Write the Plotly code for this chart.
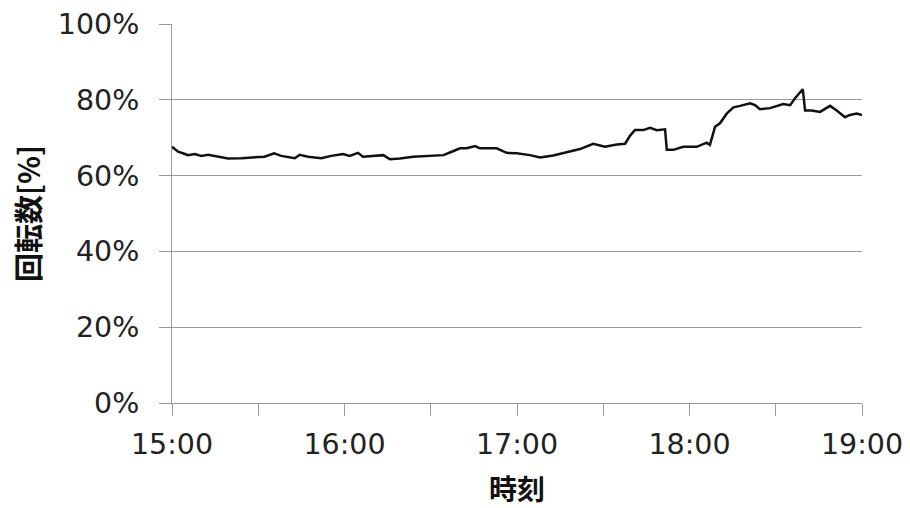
import plotly.graph_objects as go

# minutes after 15:00
minutes = [0, 2.1, 3.8, 5.6, 7.9, 10.2, 12.5, 16, 19.5, 24.1, 28.8, 32.2, 35.5, 38,
           42.7, 44.4, 47.3, 51.9, 55.4, 59.5, 61.8, 64.7, 66.4,
           68.9, 73.5, 75.8, 79.3, 83.9, 88.6, 94.4, 97.3, 100.2, 102.5, 105.4, 107.1,
           110.6, 112.9, 116.4, 119.9, 124.5, 128, 132.6, 137.3, 141.9, 146.5, 150.6,
           154.7, 157.6, 159.3, 161, 163.9, 166.3, 168.6,
           171.5, 172.1, 174.4, 177.8, 182.5, 186, 187.1, 188.9, 190.6, 193, 195.3,
           197.6, 201.1, 202.8, 204.5, 208, 212.6, 215, 216.7, 219.4, 220.2, 222.5,
           225.4, 228.9, 231.2, 234.1, 235.8, 238.2, 240]
speed = [67.6, 66.3, 65.9, 65.4, 65.7, 65.2, 65.5, 65.0, 64.5, 64.6, 64.8, 65.0, 65.9, 65.2,
         64.6, 65.5, 65.0, 64.6, 65.2, 65.7, 65.2, 66.0, 65.0,
         65.2, 65.4, 64.3, 64.5, 65.0, 65.2, 65.4, 66.3, 67.2, 67.2, 67.8, 67.2,
         67.2, 67.2, 66.0, 65.9, 65.4, 64.8, 65.3, 66.1, 67.0, 68.4, 67.6,
         68.2, 68.4, 70.5, 72.0, 72.0, 72.6, 72.0,
         72.2, 66.8, 66.8, 67.6, 67.6, 68.7, 68.1, 72.9, 73.8, 76.4, 78.0,
         78.4, 79.1, 78.6, 77.5, 77.8, 78.9, 78.6, 80.4, 82.8, 77.2, 77.2,
         76.8, 78.4, 77.2, 75.4, 76.0, 76.4, 76.0]

tick_minutes = [0, 30, 60, 90, 120, 150, 180, 210, 240]
tick_labels = ["15:00", "", "16:00", "", "17:00", "", "18:00", "", "19:00"]
y_ticks = [0, 20, 40, 60, 80, 100]
y_labels = ["0%", "20%", "40%", "60%", "80%", "100%"]

fig = go.Figure()
fig.add_trace(go.Scatter(x=minutes, y=speed, mode="lines",
                         line=dict(color="#111111", width=2.5),
                         showlegend=False, hoverinfo="skip"))

axis_gray = "#9a9a9a"
fig.update_layout(
    width=910, height=508,
    margin=dict(l=172, r=48, t=24, b=105, autoexpand=False),
    paper_bgcolor="white", plot_bgcolor="white",
    font=dict(family="DejaVu Sans, Verdana, sans-serif", size=28.5, color="#222222"),
    xaxis=dict(range=[0, 240], tickvals=tick_minutes, ticktext=tick_labels,
               automargin=False, ticklabelstandoff=4,
               showline=True, linecolor=axis_gray, linewidth=1,
               ticks="outside", ticklen=12, tickcolor=axis_gray, tickwidth=1,
               showgrid=False, zeroline=False,
               title=dict(text="<b>時刻</b>", standoff=26,
                          font=dict(family="Noto Sans CJK JP", size=28, color="#111111"))),
    yaxis=dict(range=[0, 100], tickvals=y_ticks, ticktext=y_labels,
               automargin=False, ticklabelstandoff=14,
               showline=True, linecolor=axis_gray, linewidth=1,
               ticks="outside", ticklen=12, tickcolor=axis_gray, tickwidth=1,
               showgrid=True, gridcolor=axis_gray, gridwidth=1, zeroline=False,
               title=dict(text="<b>回転数[%]</b>", standoff=8,
                          font=dict(family="Noto Sans CJK JP", size=29, color="#111111"))),
)

fig.write_html("out.html")
